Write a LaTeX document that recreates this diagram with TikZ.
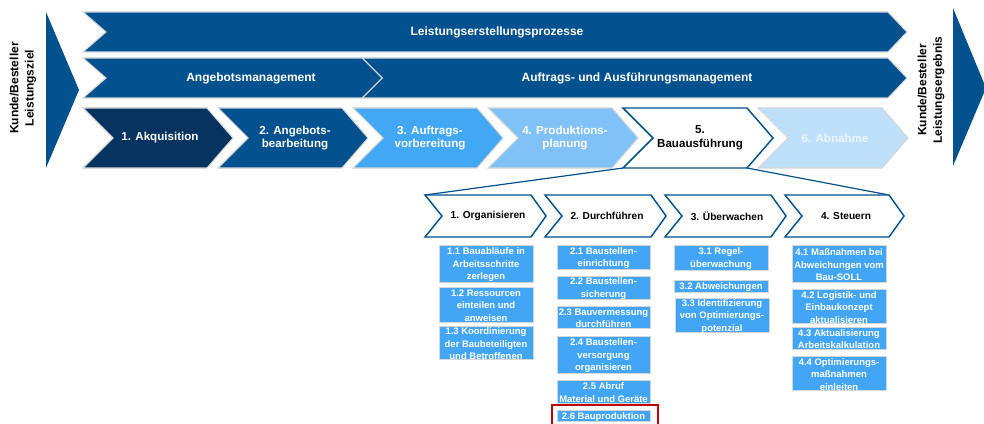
\documentclass[tikz,border=0pt]{standalone}
\usepackage{fontspec}
\setmainfont{Liberation Sans}
\definecolor{navy}{HTML}{06335F}
\definecolor{mainblue}{HTML}{03518F}
\definecolor{midblue}{HTML}{42A7F5}
\definecolor{lightblue}{HTML}{80C2F8}
\definecolor{paleblue}{HTML}{BFE0FB}
\definecolor{paletext}{HTML}{EAF4FD}
\definecolor{boxblue}{HTML}{42A5F5}
\definecolor{framered}{HTML}{C00000}
\definecolor{rim}{HTML}{D6D6D6}
% chevron: #1 style, #2 left x, #3 top y, #4 tip x, #5 bottom y, #6 notch depth, #7 tip depth
\newcommand\chevron[7]{%
  \path[#1] (#2,#3) -- ({#4-#7},#3) -- (#4,{(#3+#5)/2}) -- ({#4-#7},#5)
    -- (#2,#5) -- ({#2+#6},{(#3+#5)/2}) -- cycle;}
\begin{document}
\begin{tikzpicture}[x=0.75pt,y=-0.75pt,
  band/.style={fill=mainblue,draw=rim,line width=0.8pt,line join=miter},
  phase/.style={draw=rim,line width=0.8pt},
  outlined/.style={fill=white,draw=mainblue,line width=1.1pt},
  bandtext/.style={font=\fontsize{9}{11}\selectfont\bfseries,text=white,align=center,inner sep=0pt},
  phasetext/.style={font=\fontsize{8.7}{10.2}\selectfont\bfseries,align=center,inner sep=0pt},
  subtext/.style={font=\fontsize{7.6}{9}\selectfont\bfseries,align=center,inner sep=0pt},
  sidetext/.style={font=\fontsize{9}{11.5}\selectfont\bfseries,align=center,rotate=90,inner sep=0pt},
  taskbox/.style={fill=boxblue,draw=rim,line width=0.6pt},
  tasktext/.style={font=\fontsize{7.1}{9.4}\selectfont\bfseries,text=white,align=center,inner sep=0pt,yshift=-0.9pt},
  link/.style={draw=mainblue,line width=0.9pt}]
\useasboundingbox (0,0) rectangle (984,424);
\begin{scope}
\clip (0,0) rectangle (984,424);

% customer arrows on both sides
\fill[mainblue] (46,12) -- (79,90) -- (46,168) -- cycle;
\fill[mainblue] (953,8) -- (986,88) -- (953,166) -- cycle;
\node[sidetext] (goal) at (23,88) {Kunde/Besteller\\Leistungsziel};
\node[sidetext] (result) at (931,90) {Kunde/Besteller\\Leistungsergebnis};

% process bands
\chevron{band}{83}{12}{907}{52}{23}{19}
\node[bandtext] (lep) at (497,32) {Leistungserstellungsprozesse};
\chevron{band}{362}{58}{907}{98}{20}{19}
\chevron{band}{83}{58}{382}{98}{23}{20}
\node[bandtext] (am) at (251,78) {Angebotsmanagement};
\node[bandtext] (aam) at (637,78) {Auftrags- und Ausführungsmanagement};

% phases
\chevron{phase,fill=navy}{83}{108}{233}{168}{30}{26}
\chevron{phase,fill=mainblue}{218}{108}{368}{168}{30}{26}
\chevron{phase,fill=midblue}{353}{108}{503}{168}{30}{26}
\chevron{phase,fill=lightblue}{488}{108}{638}{168}{30}{26}
\chevron{phase,fill=paleblue}{758}{108}{908}{168}{30}{26}
\chevron{outlined}{623}{108}{773}{168}{30}{26}
\node[phasetext,text=white] (p1) at (160,138) {1. Akquisition};
\node[phasetext,text=white] (p2) at (295,138) {2. Angebots-\\bearbeitung};
\node[phasetext,text=white] (p3) at (430,138) {3. Auftrags-\\vorbereitung};
\node[phasetext,text=white] (p4) at (565,138) {4. Produktions-\\planung};
\node[phasetext,text=black] (p5) at (700,138) {5.\\Bauausführung};
\node[phasetext,text=paletext] (p6) at (835,138) {6. Abnahme};

% expansion of phase 5
\coordinate (p5bl) at (623,168);
\coordinate (p5br) at (747,168);
\coordinate (s1tl) at (425,195);
\coordinate (s4tr) at (889,195);
\draw[link] (p5bl) -- (s1tl);
\draw[link] (p5br) -- (s4tr);

% sub-steps of phase 5
\chevron{outlined}{425}{195}{546}{237}{17}{15}
\chevron{outlined}{545}{195}{666}{237}{17}{15}
\chevron{outlined}{665}{195}{786}{237}{17}{15}
\chevron{outlined}{785}{195}{904}{237}{17}{15}
\node[subtext] (s1) at (488,216) {1. Organisieren};
\node[subtext] (s2) at (607,216) {2. Durchführen};
\node[subtext] (s3) at (727,216) {3. Überwachen};
\node[subtext] (s4) at (846,216) {4. Steuern};

% task boxes
\newcommand\task[6]{%
  \path[taskbox] (#2,#3) rectangle (#4,#5);
  \node[tasktext] (#1) at ({(#2+#4)/2},{(#3+#5)/2}) {#6};}
\task{t11}{439}{245}{533}{282}{1.1 Bauabläufe in\\Arbeitsschritte\\zerlegen}
\task{t12}{439}{287}{533}{322}{1.2 Ressourcen\\einteilen und\\anweisen}
\task{t13}{439}{326}{533}{359}{1.3 Koordinierung\\der Baubeteiligten\\und Betroffenen}
\task{t21}{557}{245}{650}{269}{2.1 Baustellen-\\einrichtung}
\task{t22}{557}{276}{650}{299}{2.2 Baustellen-\\sicherung}
\task{t23}{557}{306}{650}{328}{2.3 Bauvermessung\\durchführen}
\task{t24}{557}{336}{650}{373}{2.4 Baustellen-\\versorgung\\organisieren}
\task{t25}{557}{380}{650}{403}{2.5 Abruf\\Material und Geräte}
\task{t26}{557}{410}{650}{421}{2.6 Bauproduktion}
\task{t31}{674}{245}{768}{270}{3.1 Regel-\\überwachung}
\task{t32}{674}{280}{768}{292}{3.2 Abweichungen}
\task{t33}{675}{298}{769}{332}{3.3 Identifizierung\\von Optimierungs-\\potenzial}
\task{t41}{792}{245}{886}{282}{4.1 Maßnahmen bei\\Abweichungen vom\\Bau-SOLL}
\task{t42}{792}{289}{886}{323}{4.2 Logistik- und\\Einbaukonzept\\aktualisieren}
\task{t43}{792}{327}{886}{349}{4.3 Aktualisierung\\Arbeitskalkulation}
\task{t44}{792}{356}{886}{390}{4.4 Optimierungs-\\maßnahmen\\einleiten}

% highlight of the current task
\draw[framered,line width=1.5pt] (552,430) -- (552,404.5) -- (657.5,404.5) -- (657.5,430);
\end{scope}
\end{tikzpicture}
\end{document}
